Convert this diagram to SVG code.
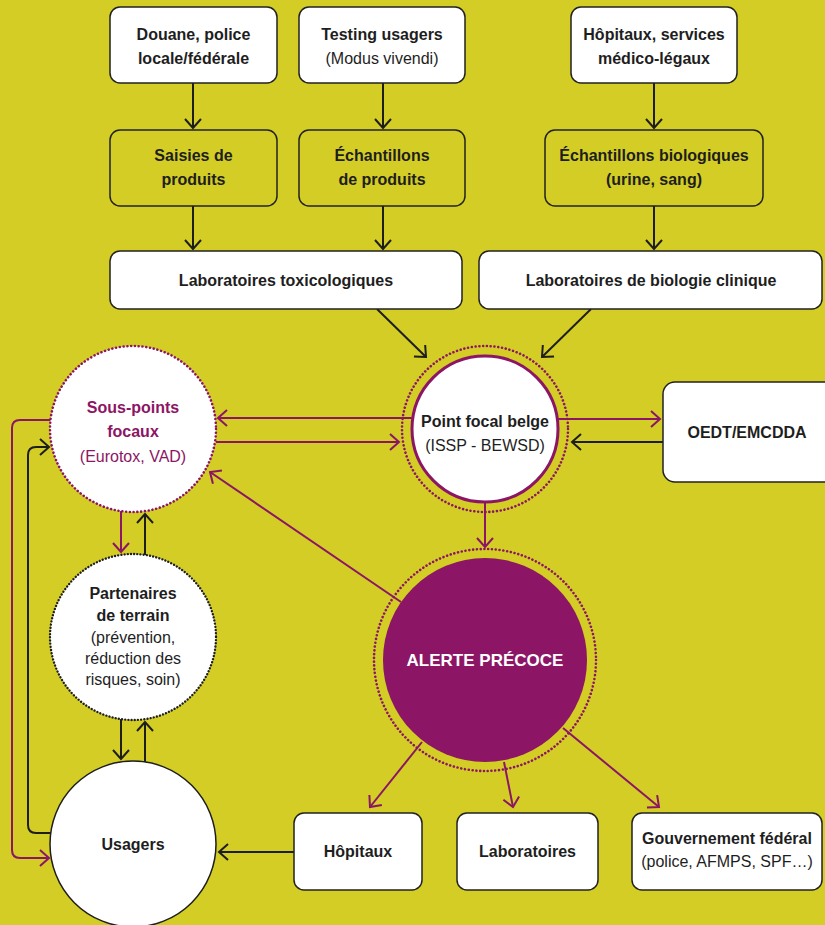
<svg xmlns="http://www.w3.org/2000/svg" width="825" height="925" viewBox="0 0 825 925">
<defs>
<style>
.bg{fill:#D3CD26}
.box{fill:#fff;stroke:#222;stroke-width:1.5}
.ybox{fill:#D3CD26;stroke:#222;stroke-width:1.5}
text{font-family:"Liberation Sans",Arial,sans-serif;font-size:16px;fill:#1e1e1e;text-anchor:middle}
.b{font-weight:bold}
.p{fill:#8C1565}
.w{fill:#fff}
.lk{fill:none;stroke:#1e1e1e;stroke-width:2}
.lp{fill:none;stroke:#8C1565;stroke-width:2}
.dotp{fill:none;stroke:#8C1565;stroke-width:2.6;stroke-dasharray:0.01 3.8;stroke-linecap:round}
.dotk{fill:none;stroke:#1e1e1e;stroke-width:2.4;stroke-dasharray:0.01 3.2;stroke-linecap:round}
</style>
<marker id="ak" viewBox="-12 -10 14 20" refX="0" refY="0" markerWidth="14" markerHeight="20" markerUnits="userSpaceOnUse" orient="auto">
<path d="M-9,-8 L0,0 L-9,8" fill="none" stroke="#1e1e1e" stroke-width="2"/>
</marker>
<marker id="ap" viewBox="-12 -10 14 20" refX="0" refY="0" markerWidth="14" markerHeight="20" markerUnits="userSpaceOnUse" orient="auto">
<path d="M-9,-8 L0,0 L-9,8" fill="none" stroke="#8C1565" stroke-width="2"/>
</marker>
</defs>
<rect class="bg" x="0" y="0" width="825" height="925"/>

<g id="connectors">
<line class="lk" x1="193" y1="83" x2="193" y2="128" marker-end="url(#ak)"/>
<line class="lk" x1="383" y1="83" x2="383" y2="128" marker-end="url(#ak)"/>
<line class="lk" x1="654" y1="83" x2="654" y2="128" marker-end="url(#ak)"/>
<line class="lk" x1="193" y1="206" x2="193" y2="249" marker-end="url(#ak)"/>
<line class="lk" x1="383" y1="206" x2="383" y2="249" marker-end="url(#ak)"/>
<line class="lk" x1="654" y1="206" x2="654" y2="249" marker-end="url(#ak)"/>
<line class="lk" x1="377" y1="309" x2="426" y2="357" marker-end="url(#ak)"/>
<line class="lk" x1="591" y1="309" x2="542" y2="357" marker-end="url(#ak)"/>
<line class="lp" x1="413" y1="418" x2="218" y2="418" marker-end="url(#ap)"/>
<line class="lp" x1="216" y1="442" x2="399" y2="442" marker-end="url(#ap)"/>
<line class="lp" x1="557" y1="419" x2="660" y2="419" marker-end="url(#ap)"/>
<line class="lk" x1="663" y1="442" x2="572" y2="442" marker-end="url(#ak)"/>
<line class="lp" x1="485" y1="502" x2="485" y2="547" marker-end="url(#ap)"/>
<line class="lp" x1="401" y1="602" x2="210" y2="472" marker-end="url(#ap)"/>
<line class="lp" x1="422" y1="742" x2="370" y2="807" marker-end="url(#ap)"/>
<line class="lp" x1="504" y1="762" x2="513" y2="807" marker-end="url(#ap)"/>
<line class="lp" x1="563" y1="728" x2="659" y2="807" marker-end="url(#ap)"/>
<line class="lk" x1="294" y1="852" x2="219" y2="852" marker-end="url(#ak)"/>
<line class="lp" x1="121" y1="511" x2="121" y2="552" marker-end="url(#ap)"/>
<line class="lk" x1="145" y1="555" x2="145" y2="514" marker-end="url(#ak)"/>
<line class="lk" x1="121" y1="719" x2="121" y2="759" marker-end="url(#ak)"/>
<line class="lk" x1="145" y1="762" x2="145" y2="722" marker-end="url(#ak)"/>
<path class="lp" d="M51,420 H20 Q12,420 12,428 V850 Q12,858 20,858 H49" marker-end="url(#ap)"/>
<path class="lk" d="M51,833 H36 Q28,833 28,825 V455 Q28,447 36,447 H49" marker-end="url(#ak)"/>
</g>

<g id="douane">
<rect class="box" x="110" y="7" width="167" height="76" rx="10"/>
<text class="b" x="193.5" y="40">Douane, police</text>
<text class="b" x="193.5" y="64">locale/fédérale</text>
</g>
<g id="testing">
<rect class="box" x="299" y="7" width="166" height="76" rx="10"/>
<text class="b" x="382" y="40">Testing usagers</text>
<text x="382" y="64">(Modus vivendi)</text>
</g>
<g id="hopitaux-services">
<rect class="box" x="571" y="7" width="166" height="76" rx="10"/>
<text class="b" x="654" y="40">Hôpitaux, services</text>
<text class="b" x="654" y="64">médico-légaux</text>
</g>
<g id="saisies">
<rect class="ybox" x="110" y="130" width="167" height="76" rx="10"/>
<text class="b" x="193.5" y="161">Saisies de</text>
<text class="b" x="193.5" y="185">produits</text>
</g>
<g id="echantillons-produits">
<rect class="ybox" x="299" y="130" width="166" height="76" rx="10"/>
<text class="b" x="382" y="161">Échantillons</text>
<text class="b" x="382" y="185">de produits</text>
</g>
<g id="echantillons-bio">
<rect class="ybox" x="545" y="130" width="218" height="76" rx="10"/>
<text class="b" x="654" y="161">Échantillons biologiques</text>
<text class="b" x="654" y="185">(urine, sang)</text>
</g>
<g id="labo-tox">
<rect class="box" x="110" y="251" width="352" height="58" rx="10"/>
<text class="b" x="286" y="286">Laboratoires toxicologiques</text>
</g>
<g id="labo-bio">
<rect class="box" x="479" y="251" width="343" height="58" rx="10"/>
<text class="b" x="651" y="286">Laboratoires de biologie clinique</text>
</g>

<g id="point-focal">
<circle class="dotp" cx="485" cy="429" r="83"/>
<circle cx="485" cy="429" r="73" fill="#fff" stroke="#8C1565" stroke-width="3"/>
<text class="b" x="485" y="427">Point focal belge</text>
<text x="485" y="451">(ISSP - BEWSD)</text>
</g>
<g id="oedt">
<rect class="box" x="663" y="382" width="180" height="100" rx="12"/>
<text class="b" x="747" y="438">OEDT/EMCDDA</text>
</g>
<g id="sous-points">
<circle cx="133" cy="429" r="83" fill="#fff"/>
<circle class="dotp" cx="133" cy="429" r="83"/>
<text class="b p" x="133" y="413">Sous-points</text>
<text class="b p" x="133" y="437">focaux</text>
<text class="p" x="133" y="462">(Eurotox, VAD)</text>
</g>
<g id="partenaires">
<circle cx="133" cy="637" r="83" fill="#fff"/>
<circle class="dotk" cx="133" cy="637" r="83"/>
<text class="b" x="133" y="599">Partenaires</text>
<text class="b" x="133" y="621">de terrain</text>
<text x="133" y="643">(prévention,</text>
<text x="133" y="664">réduction des</text>
<text x="133" y="685">risques, soin)</text>
</g>
<g id="alerte">
<circle class="dotp" cx="485" cy="660" r="111"/>
<circle cx="485" cy="660" r="102" fill="#8C1565"/>
<text class="b w" x="485" y="666" style="font-size:17px">ALERTE PRÉCOCE</text>
</g>
<g id="usagers">
<circle cx="133" cy="844" r="83" fill="#fff" stroke="#1e1e1e" stroke-width="1.5"/>
<text class="b" x="133" y="850">Usagers</text>
</g>
<g id="hopitaux">
<rect class="box" x="294" y="813" width="128" height="77" rx="10"/>
<text class="b" x="358" y="857">Hôpitaux</text>
</g>
<g id="laboratoires">
<rect class="box" x="457" y="813" width="141" height="77" rx="10"/>
<text class="b" x="527.5" y="857">Laboratoires</text>
</g>
<g id="gouvernement">
<rect class="box" x="632" y="813" width="190" height="77" rx="10"/>
<text class="b" x="727" y="844">Gouvernement fédéral</text>
<text x="727" y="867">(police, AFMPS, SPF…)</text>
</g>
</svg>
